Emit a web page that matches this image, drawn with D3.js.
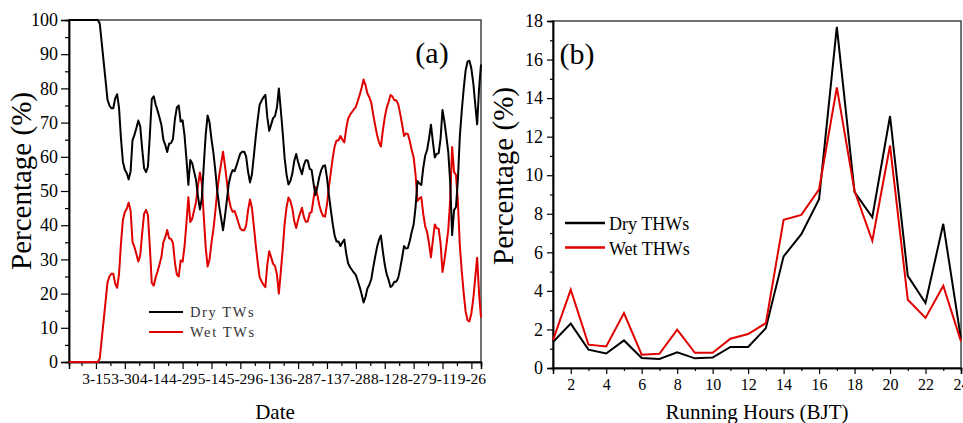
<!DOCTYPE html>
<html>
<head>
<meta charset="utf-8">
<script src="https://cdn.jsdelivr.net/npm/d3@7"></script>
<style>
  html, body { margin: 0; padding: 0; background: #fff; }
  svg { display: block; }
  text { font-family: "Liberation Serif", Tinos, "Times New Roman", "Nimbus Roman", "DejaVu Serif", serif; }
</style>
</head>
<body>
<svg id="chart" width="963" height="423"></svg>
<script>
// ---- Panel (a): daily share of dry / wet TWs, starting 1 March ----
const seasonStart = [2019, 3, 1];
const seasonEnd = [2019, 10, 1];
const dateTickLabels = ["3-15", "3-30", "4-14", "4-29", "5-14", "5-29", "6-13",
  "6-28", "7-13", "7-28", "8-12", "8-27", "9-11", "9-26"];
const percentTicksA = [0, 10, 20, 30, 40, 50, 60, 70, 80, 90, 100];

const dryTWs = [
  100, 100, 100, 100, 100, 100, 100, 100, 100, 100, 100, 100, 100, 100, 100, 100,
  98.9, 93.3, 87.8, 82.3, 76.7, 75, 74.2, 74.2, 77.1, 78.3, 74.2, 65.3, 58.5, 56.2,
  55.2, 53.4, 55.8, 64.9, 66.4, 68.4, 70.6, 68.9, 62.4, 56.7, 55.5, 57.1, 66.4, 76.9,
  77.7, 75.3, 73.5, 71.5, 69.3, 65, 63.5, 61.4, 63.8, 64, 65.2, 70.9, 74.4, 75,
  70.3, 70.7, 66.3, 59.4, 51.8, 59.1, 58.1, 55.6, 53.2, 48.4, 44.6, 47.9, 57.4, 66.4,
  72.1, 70, 65.2, 61.2, 56, 50, 45.6, 42.1, 38.5, 42.6, 47.3, 52.2, 54.7, 56.1,
  55.8, 57.4, 59.3, 61, 61.5, 61.5, 60.1, 55.7, 52.5, 54.8, 60.2, 65.8, 70.8, 75.2,
  76.4, 77.4, 78.1, 71.6, 67.6, 69.4, 71.3, 71.9, 74.4, 80, 73.7, 67.1, 59.6, 54.8,
  51.9, 52.9, 55.1, 58.8, 60.8, 58.5, 56.6, 54.9, 57.6, 59, 58.9, 56.5, 56.2, 52.3,
  48.8, 51.2, 54.1, 56.1, 57.3, 57.5, 53.9, 48.8, 44.5, 40.3, 36.9, 35.2, 35.2, 33.9,
  35, 35.8, 31.7, 28.8, 27.7, 26.9, 26.1, 25.4, 23.7, 21.9, 19.8, 17.4, 19, 21.5,
  22.6, 24.2, 27.6, 30.7, 33.6, 35.7, 37, 32.4, 28.5, 25.7, 24, 21.9, 22.4, 23.5,
  23.5, 24.6, 27.3, 30.4, 33.9, 33.2, 33.3, 35.4, 38, 40.1, 45.2, 52.9, 52.2, 51.8,
  56.7, 60.3, 62, 65.3, 69.4, 64.4, 59.8, 60.9, 61, 65.3, 73.7, 70.3, 66, 61.4,
  52.5, 37.1, 44.4, 45.3, 53.3, 65.9, 73.4, 79.8, 85.2, 87.8, 88.1, 85.8, 81.5, 75.4,
  69.5, 80, 87
];

const wetTWs = [
  0, 0, 0, 0, 0, 0, 0, 0, 0, 0, 0, 0, 0, 0, 0, 0,
  1.1, 6.7, 12.2, 17.7, 23.3, 25, 25.8, 25.8, 22.9, 21.7, 25.8, 34.7, 41.5, 43.8,
  44.8, 46.6, 44.2, 35.1, 33.6, 31.6, 29.4, 31.1, 37.6, 43.3, 44.5, 42.9, 33.6, 23.1,
  22.3, 24.7, 26.5, 28.5, 30.7, 35, 36.5, 38.6, 36.2, 36, 34.8, 29.1, 25.6, 25,
  29.7, 29.3, 33.7, 40.6, 48.2, 40.9, 41.9, 44.4, 46.8, 51.6, 55.4, 52.1, 42.6, 33.6,
  27.9, 30, 34.8, 38.8, 44, 50, 54.4, 57.9, 61.5, 57.4, 52.7, 47.8, 45.3, 43.9,
  44.2, 42.6, 40.7, 39, 38.5, 38.5, 39.9, 44.3, 47.5, 45.2, 39.8, 34.2, 29.2, 24.8,
  23.6, 22.6, 21.9, 28.4, 32.4, 30.6, 28.7, 28.1, 25.6, 20, 26.3, 32.9, 40.4, 45.2,
  48.1, 47.1, 44.9, 41.2, 39.2, 41.5, 43.4, 45.1, 42.4, 41, 41.1, 43.5, 43.8, 47.7,
  51.2, 48.8, 45.9, 43.9, 42.7, 42.5, 46.1, 51.2, 55.5, 59.7, 63.1, 64.8, 64.8, 66.1,
  65, 64.2, 68.3, 71.2, 72.3, 73.1, 73.9, 74.6, 76.3, 78.1, 80.2, 82.6, 81, 78.5,
  77.4, 75.8, 72.4, 69.3, 66.4, 64.3, 63, 67.6, 71.5, 74.3, 76, 78.1, 77.6, 76.5,
  76.5, 75.4, 72.7, 69.6, 66.1, 66.8, 66.7, 64.6, 62, 59.9, 54.8, 47.1, 47.8, 48.2,
  43.3, 39.7, 38, 34.7, 30.6, 35.6, 40.2, 39.1, 39, 34.7, 26.3, 29.7, 34, 38.6,
  47.5, 62.9, 55.6, 54.7, 46.7, 34.1, 26.6, 20.2, 14.8, 12.2, 11.9, 14.2, 18.5, 24.6,
  30.5, 20, 13
];

// ---- Panel (b): share of THWs by running hour (BJT) ----
const hours = [1, 2, 3, 4, 5, 6, 7, 8, 9, 10, 11, 12, 13, 14, 15, 16, 17, 18, 19, 20, 21, 22, 23, 24];
const dryTHWs = [1.35, 2.3, 0.95, 0.75, 1.43, 0.52, 0.47, 0.81, 0.5, 0.54, 1.09, 1.09,
  2.07, 5.79, 6.94, 8.76, 17.7, 9.12, 7.82, 13.07, 4.78, 3.37, 7.48, 1.5];
const wetTHWs = [1.45, 4.06, 1.21, 1.12, 2.85, 0.69, 0.74, 1.99, 0.79, 0.79, 1.52, 1.76,
  2.33, 7.69, 7.94, 9.27, 14.56, 9.18, 6.6, 11.54, 3.54, 2.6, 4.27, 1.38];
const hourTicks = [2, 4, 6, 8, 10, 12, 14, 16, 18, 20, 22, 24];
const percentTicksB = [0, 2, 4, 6, 8, 10, 12, 14, 16, 18];

const RED = "#e00000";
const svg = d3.select("#chart");

const utc = (y, m, d) => new Date(Date.UTC(y, m - 1, d));
const DAY = 864e5;

// axis generators put font-family="sans-serif" on their group; drop it so the
// stylesheet's serif stack applies to the tick labels
function styleAxis(sel, fontSize) {
  sel.attr("font-family", null).attr("font-size", null);
  sel.select(".domain").attr("stroke", "#000").attr("stroke-width", 1.5);
  sel.selectAll(".tick line").attr("stroke", "#000").attr("stroke-width", 1.2);
  sel.selectAll(".tick text").style("font-size", fontSize + "px").attr("fill", "#000");
}

// ================= Panel (a) =================
{
  const L = 69, R = 481, T = 20, B = 362;
  const start = utc(...seasonStart);
  const x = d3.scaleUtc().domain([start, utc(...seasonEnd)]).range([L, R]);
  const y = d3.scaleLinear().domain([0, 100]).range([B, T]);
  const g = svg.append("g");

  const majorDates = dateTickLabels.map(s => {
    const [m, d] = s.split("-").map(Number);
    return utc(seasonStart[0], m, d);
  });
  const minorDates = majorDates.map(d => new Date(+d - 7.5 * DAY))
    .filter(d => d >= x.domain()[0]);

  // frame
  g.append("rect").attr("x", L).attr("y", T).attr("width", R - L).attr("height", B - T)
    .attr("fill", "none").attr("stroke", "#444").attr("stroke-width", 1.5);

  g.append("g").attr("transform", `translate(0,${B})`)
    .call(d3.axisBottom(x).tickValues(minorDates).tickSize(4).tickFormat(""))
    .call(styleAxis, 15);
  g.append("g").attr("transform", `translate(0,${B})`)
    .call(d3.axisBottom(x).tickValues(majorDates).tickSize(7).tickPadding(4)
      .tickFormat(d3.utcFormat("%-m-%d")))
    .call(styleAxis, 15.5);
  g.append("g").attr("transform", `translate(${L},0)`)
    .call(d3.axisLeft(y).tickValues(d3.range(5, 100, 10)).tickSize(4).tickFormat(""))
    .call(styleAxis, 18);
  g.append("g").attr("transform", `translate(${L},0)`)
    .call(d3.axisLeft(y).tickValues(percentTicksA).tickSize(8).tickPadding(3))
    .call(styleAxis, 18);

  const line = d3.line()
    .x((d, i) => x(new Date(+start + i * DAY)))
    .y(d => y(d));

  g.append("path").datum(wetTWs).attr("d", line)
    .attr("fill", "none").attr("stroke", RED).attr("stroke-width", 2).attr("stroke-linejoin", "round");
  g.append("path").datum(dryTWs).attr("d", line)
    .attr("fill", "none").attr("stroke", "#000").attr("stroke-width", 2).attr("stroke-linejoin", "round");

  // legend
  const legend = [["Dry TWs", "#000"], ["Wet TWs", RED]];
  legend.forEach(([label, color], i) => {
    const ly = 312 + i * 20;
    g.append("line").attr("x1", 149).attr("x2", 183).attr("y1", ly).attr("y2", ly)
      .attr("stroke", color).attr("stroke-width", 2.2);
    g.append("text").attr("x", 190).attr("y", ly + 5).text(label)
      .style("font-size", "14.5px").attr("letter-spacing", "1.6").attr("fill", "#333");
  });

  g.append("text").attr("x", 432).attr("y", 63).attr("text-anchor", "middle")
    .style("font-size", "30px").text("(a)");
  g.append("text").attr("x", 275).attr("y", 419).attr("text-anchor", "middle")
    .style("font-size", "21px").text("Date");
  g.append("text").attr("transform", "translate(31,181) rotate(-90)")
    .attr("text-anchor", "middle").style("font-size", "29px").text("Percentage (%)");
}

// ================= Panel (b) =================
{
  const L = 553, R = 961, T = 21, B = 368;
  const x = d3.scaleLinear().domain([1, 24]).range([L, R]);
  const y = d3.scaleLinear().domain([0, 18]).range([B, T]);
  const g = svg.append("g");

  g.append("rect").attr("x", L).attr("y", T).attr("width", R - L).attr("height", B - T)
    .attr("fill", "none").attr("stroke", "#444").attr("stroke-width", 1.5);

  g.append("g").attr("transform", `translate(0,${B})`)
    .call(d3.axisBottom(x).tickValues(d3.range(3, 24, 2)).tickSize(3).tickFormat(""))
    .call(styleAxis, 16);
  g.append("g").attr("transform", `translate(0,${B})`)
    .call(d3.axisBottom(x).tickValues(hourTicks).tickSize(6).tickPadding(5))
    .call(styleAxis, 16);
  g.append("g").attr("transform", `translate(${L},0)`)
    .call(d3.axisLeft(y).tickValues(d3.range(1, 18, 2)).tickSize(3).tickFormat(""))
    .call(styleAxis, 18);
  g.append("g").attr("transform", `translate(${L},0)`)
    .call(d3.axisLeft(y).tickValues(percentTicksB).tickSize(6).tickPadding(4))
    .call(styleAxis, 18);

  const line = d3.line().x((d, i) => x(hours[i])).y(d => y(d));
  g.append("path").datum(dryTHWs).attr("d", line)
    .attr("fill", "none").attr("stroke", "#000").attr("stroke-width", 2).attr("stroke-linejoin", "miter");
  g.append("path").datum(wetTHWs).attr("d", line)
    .attr("fill", "none").attr("stroke", RED).attr("stroke-width", 2).attr("stroke-linejoin", "miter");

  const legend = [["Dry THWs", "#000"], ["Wet THWs", RED]];
  legend.forEach(([label, color], i) => {
    const ly = 223 + i * 24.5;
    g.append("line").attr("x1", 565).attr("x2", 605).attr("y1", ly).attr("y2", ly)
      .attr("stroke", color).attr("stroke-width", 2.5);
    g.append("text").attr("x", 609).attr("y", ly + 7).text(label)
      .style("font-size", "18px").attr("fill", "#000");
  });

  g.append("text").attr("x", 577).attr("y", 64).attr("text-anchor", "middle")
    .style("font-size", "30px").text("(b)");
  g.append("text").attr("x", 757).attr("y", 419).attr("text-anchor", "middle")
    .style("font-size", "21px").text("Running Hours (BJT)");
  g.append("text").attr("transform", "translate(513,176) rotate(-90)")
    .attr("text-anchor", "middle").style("font-size", "29px").text("Percentage (%)");
}
</script>
</body>
</html>
